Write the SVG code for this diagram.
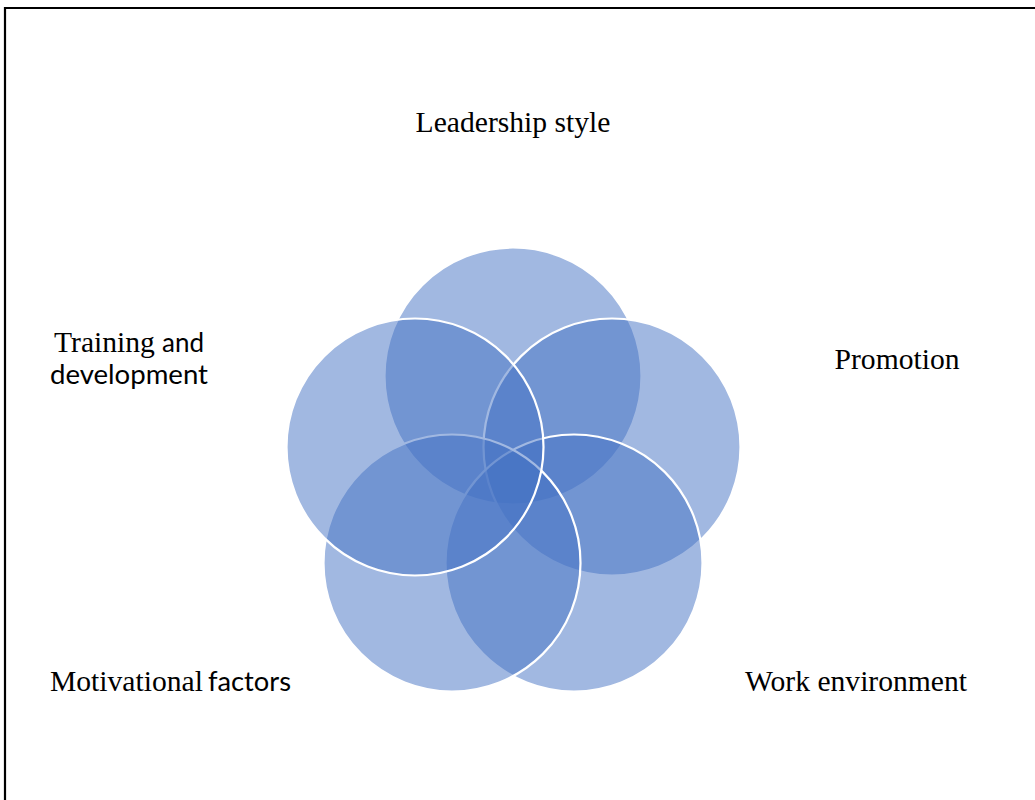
<svg xmlns="http://www.w3.org/2000/svg" width="1035" height="800" viewBox="0 0 1035 800">
  <style>
    .petal { fill: #4472C4; fill-opacity: 0.5; stroke: #FFFFFF; stroke-width: 2.2; }
    .serif { font-family: "Liberation Serif", "Times New Roman", serif; font-size: 29.6px; fill: #000000; }
    .sans { font-family: Lato, "Open Sans", sans-serif; font-size: 27px; fill: #000000; }
  </style>
  <rect width="1035" height="800" fill="#FFFFFF"/>
  <!-- page frame: top and left rules only -->
  <path d="M5 800 V8 H1035" fill="none" stroke="#000000" stroke-width="2.2"/>

  <g id="connectors"/>

  <!-- radial Venn, drawn clockwise from the top -->
  <g id="leadership-style">
    <circle class="petal" cx="513" cy="376" r="128.5"/>
    <text class="serif" x="513" y="132" text-anchor="middle">Leadership style</text>
  </g>
  <g id="promotion">
    <circle class="petal" cx="612" cy="447" r="128.5"/>
    <text class="serif" x="897" y="369" text-anchor="middle">Promotion</text>
  </g>
  <g id="work-environment">
    <circle class="petal" cx="574" cy="563" r="128.5"/>
    <text class="serif" x="856" y="691" text-anchor="middle">Work environment</text>
  </g>
  <g id="motivational-factors">
    <circle class="petal" cx="452" cy="563" r="128.5"/>
    <text x="50" y="691"><tspan class="serif">Motivational </tspan><tspan class="sans" x="208" textLength="83" lengthAdjust="spacingAndGlyphs">factors</tspan></text>
  </g>
  <g id="training-and-development">
    <circle class="petal" cx="415" cy="447" r="128.5"/>
    <text x="54" y="352"><tspan class="serif">Training </tspan><tspan class="sans" x="162" textLength="42" lengthAdjust="spacingAndGlyphs">and</tspan></text>
    <text class="sans" x="50" y="384" textLength="158" lengthAdjust="spacingAndGlyphs">development</text>
  </g>
</svg>
